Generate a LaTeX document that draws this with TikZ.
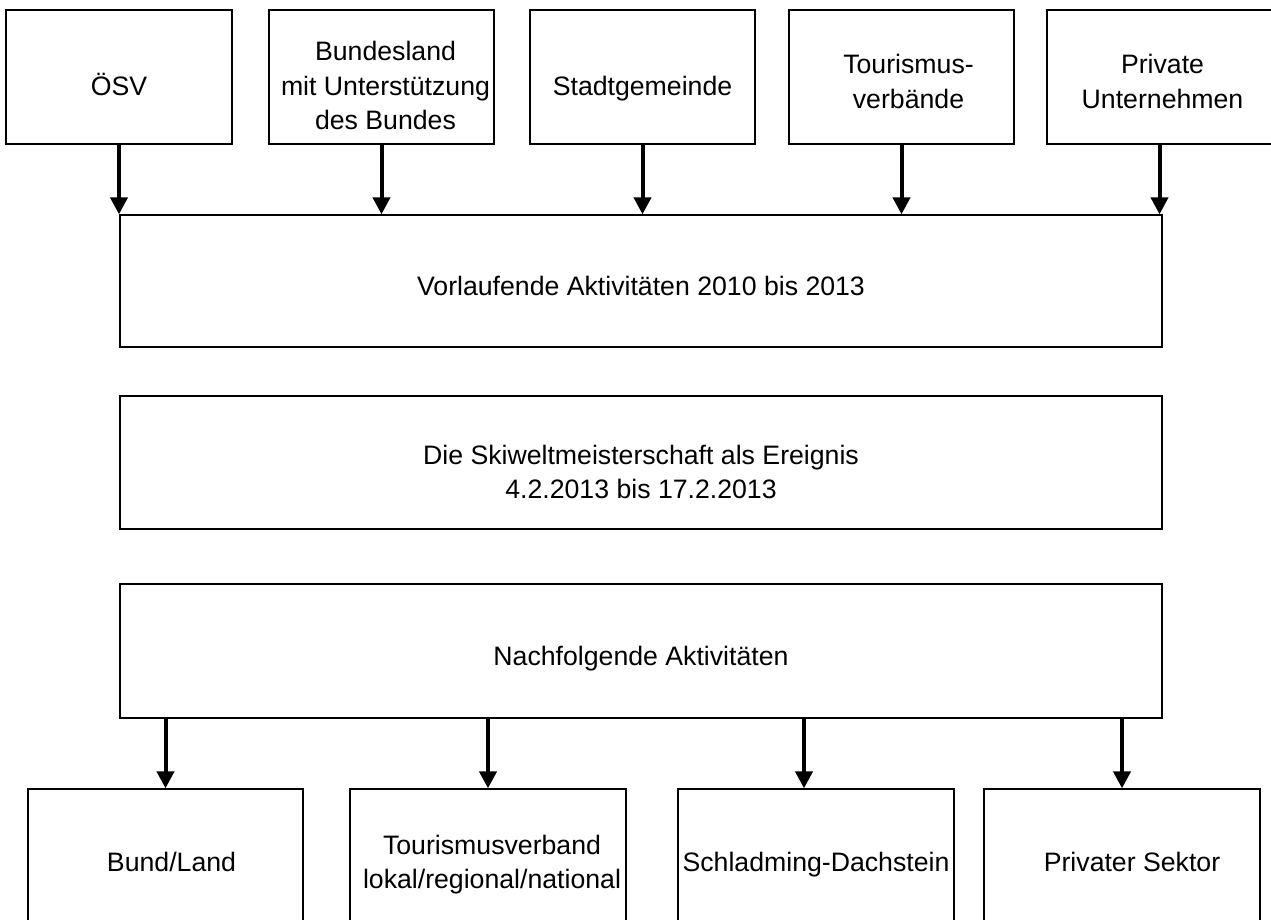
\documentclass[tikz,border=0pt]{standalone}
\usepackage{fontspec}
\setmainfont{Liberation Sans}
\usetikzlibrary{arrows.meta}
% #1: extra left space (shifts text right by half), #2: lowering, #3: lines
\newcommand\bxt[3]{\hspace*{#1}\raisebox{-#2}[\height][\depth]{\begin{tabular}{@{}c@{}}#3\end{tabular}}}
\tikzset{
  box/.style={draw, line width=1.3pt, minimum width=225pt, minimum height=134pt,
    inner sep=0pt, font=\fontsize{26.67}{34.5}\selectfont},
  wide/.style={box, minimum width=1042pt},
  low/.style={box, minimum width=276pt, minimum height=151pt},
  arr/.style={line width=4pt, -{Triangle[width=17pt,length=17pt]}},
}
\begin{document}
\begin{tikzpicture}[x=1pt,y=-1pt]
\useasboundingbox (0,0) rectangle (1271,919);
\fill[white] (0,0) rectangle (1271,919);
\clip (0,0) rectangle (1271,919);
% top row
\node[box, minimum width=226pt] (osv) at (119,77) {\bxt{0pt}{11.5pt}{ÖSV}};
\node[box] (bund) at (381.5,77) {\bxt{8pt}{11.5pt}{Bundesland\\mit Unterstützung\\des Bundes}};
\node[box] (stadt) at (642.5,77) {\bxt{0pt}{11.5pt}{Stadtgemeinde}};
\node[box] (tour) at (901.5,77) {\bxt{14pt}{7pt}{Tourismus-\\verbände}};
\node[box] (priv) at (1159.5,77) {\bxt{6pt}{7pt}{Private\\Unternehmen}};
% middle
\node[wide, minimum height=132pt] (vor) at (641,281) {\bxt{0pt}{7.6pt}{Vorlaufende Aktivitäten 2010 bis 2013}};
\node[wide, minimum height=133pt] (ski) at (641,462.5) {\bxt{0pt}{12pt}{Die Skiweltmeisterschaft als Ereignis\\4.2.2013 bis 17.2.2013}};
\node[wide] (nach) at (641,651) {\bxt{0pt}{7.6pt}{Nachfolgende Aktivitäten}};
% bottom row
\node[low, minimum width=275pt] (bl) at (165.5,864.5) {\bxt{12pt}{0pt}{Bund/Land}};
\node[low] (tv) at (488,864.5) {\bxt{8pt}{0pt}{Tourismusverband\\lokal/regional/national}};
\node[low] (sd) at (816,864.5) {\bxt{0pt}{0pt}{Schladming-Dachstein}};
\node[low] (ps) at (1122,864.5) {\bxt{20pt}{0pt}{Privater Sektor}};
% arrows top
\foreach \n in {osv,bund,stadt,tour,priv}
  \draw[arr] (\n.south) -- (\n.south |- vor.north);
% arrows bottom
\path ([xshift=-12pt]sd.north) coordinate (sdin);
\draw[arr] (bl.north |- nach.south) -- (bl.north);
\draw[arr] (tv.north |- nach.south) -- (tv.north);
\draw[arr] (sdin |- nach.south) -- (sdin);
\draw[arr] (ps.north |- nach.south) -- (ps.north);
\end{tikzpicture}
\end{document}
